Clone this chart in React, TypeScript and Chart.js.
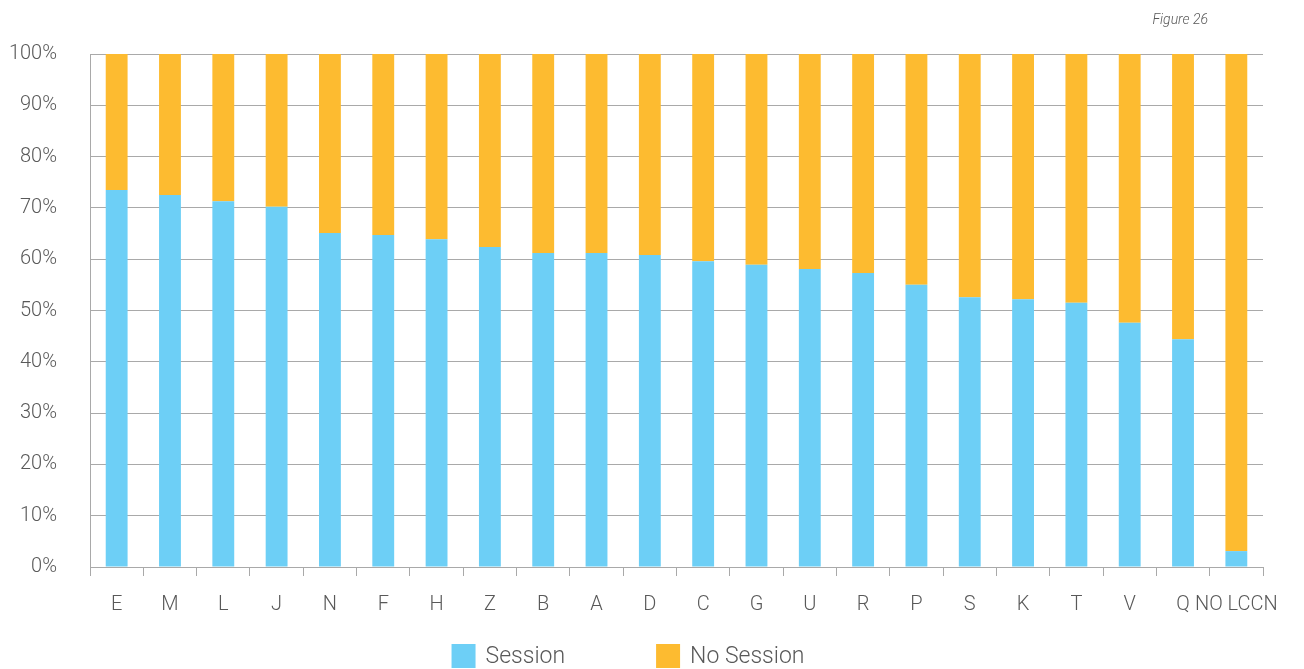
import React, { useEffect, useRef } from "react";
import { Chart, registerables } from "chart.js";

Chart.register(...registerables);

const categories = ["E", "M", "L", "J", "N", "F", "H", "Z", "B", "A", "D", "C", "G", "U", "R", "P", "S", "K", "T", "V", "Q", "NO LCCN"];
const sessionValues = [73.5, 72.5, 71.3, 70.2, 65.1, 64.7, 63.9, 62.4, 61.2, 61.2, 60.8, 59.6, 58.9, 58.1, 57.3, 55.0, 52.6, 52.2, 51.5, 47.6, 44.4, 3.1];
const noSessionValues = sessionValues.map((v) => Math.round((100 - v) * 10) / 10);
const seriesNames = ["Session", "No Session"];
const seriesColors = ["#6dcff6", "#fdbb30"];
const yTicks = [0, 10, 20, 30, 40, 50, 60, 70, 80, 90, 100];
const figureLabel = "Figure 26";

const FONT = "Roboto, 'Open Sans', sans-serif";
const TEXT = "#595959";
const GRID = "#a9a9a9";

const extrasPlugin = {
  id: "extras",
  afterDraw(chart: any) {
    const ctx = chart.ctx;
    const area = chart.chartArea;
    ctx.save();
    // Figure label
    ctx.font = `italic 300 14px ${FONT}`;
    ctx.fillStyle = TEXT;
    ctx.textAlign = "right";
    ctx.textBaseline = "alphabetic";
    ctx.fillText(figureLabel, area.right - 55, 24);
    // Legend
    const box = 24;
    ctx.font = `300 23px ${FONT}`;
    ctx.textAlign = "left";
    ctx.textBaseline = "middle";
    const gapText = 10;
    const gapItem = 91;
    const widths = chart.data.datasets.map((d: any) => box + gapText + ctx.measureText(d.label).width);
    const total = widths.reduce((a: number, b: number) => a + b, 0) + gapItem * (widths.length - 1);
    let x = chart.width / 2 - 24 - total / 2;
    const yTop = 644;
    chart.data.datasets.forEach((d: any, i: number) => {
      ctx.fillStyle = d.backgroundColor;
      ctx.fillRect(x, yTop, box, box);
      ctx.fillStyle = TEXT;
      ctx.fillText(d.label, x + box + gapText, yTop + box / 2 + 1);
      x += widths[i] + gapItem;
    });
    ctx.restore();
  },
};

export default function App() {
  const ref = useRef<HTMLCanvasElement | null>(null);
  useEffect(() => {
    document.body.style.margin = "0";
    const chart = new Chart(ref.current as HTMLCanvasElement, {
      type: "bar",
      data: {
        labels: categories,
        datasets: [
          { label: seriesNames[0], data: sessionValues, backgroundColor: seriesColors[0], barPercentage: 0.41, categoryPercentage: 1 },
          { label: seriesNames[1], data: noSessionValues, backgroundColor: seriesColors[1], barPercentage: 0.41, categoryPercentage: 1 },
        ],
      },
      options: {
        animation: false,
        responsive: false,
        maintainAspectRatio: false,
        layout: { padding: { top: 54, right: 41, left: 0, bottom: 0 } },
        plugins: { legend: { display: false }, tooltip: { enabled: false }, title: { display: false } },
        scales: {
          x: {
            stacked: true,
            offset: true,
            afterFit: (s: any) => { s.height = 102; },
            grid: { offset: true, drawOnChartArea: false, drawTicks: true, tickLength: 9, color: GRID, lineWidth: 1 },
            border: { color: GRID, width: 1 },
            ticks: { color: TEXT, font: { family: FONT, size: 20, weight: "300" as any }, padding: 17, maxRotation: 0, autoSkip: false },
          },
          y: {
            stacked: true,
            min: 0,
            max: 100,
            afterFit: (s: any) => { s.width = 90; },
            afterBuildTicks: (s: any) => { s.ticks = yTicks.map((v) => ({ value: v })); },
            grid: { color: GRID, lineWidth: 1, drawTicks: false },
            border: { color: GRID, width: 1 },
            ticks: { color: TEXT, font: { family: FONT, size: 20, weight: "300" as any }, padding: 33, callback: (v: any) => `${v}%` },
          },
        },
      },
      plugins: [extrasPlugin],
    });
    return () => chart.destroy();
  }, []);
  return (
    <div style={{ width: 1304, height: 669 }}>
      <canvas ref={ref} width={1304} height={669} style={{ display: "block" }} />
    </div>
  );
}
